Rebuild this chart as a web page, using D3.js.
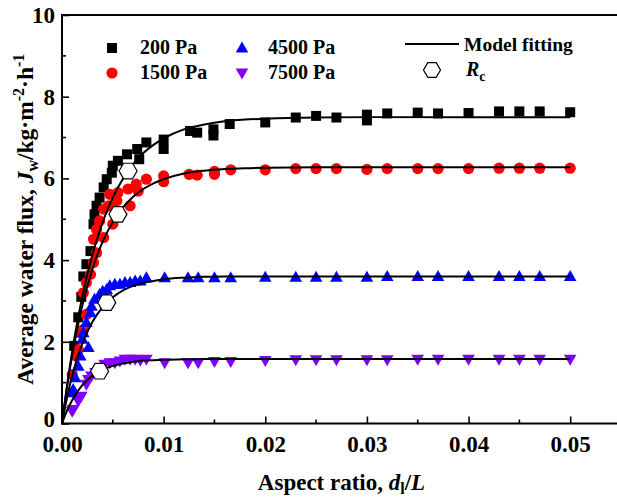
<!DOCTYPE html>
<html>
<head>
<meta charset="utf-8">
<script src="https://cdn.jsdelivr.net/npm/d3@7"></script>
<style>
  html, body { margin: 0; padding: 0; background: #fff; }
  svg { display: block; font-family: "Liberation Serif", "Times New Roman", serif; font-weight: bold; }
</style>
</head>
<body>
<svg id="chart" width="617" height="500"></svg>
<script>
// ---------------- data ----------------
const xTicks = [0, 0.01, 0.02, 0.03, 0.04, 0.05];
const xTickLabels = ["0.00", "0.01", "0.02", "0.03", "0.04", "0.05"];
const yTicks = [0, 2, 4, 6, 8, 10];
const yTickLabels = ["0", "2", "4", "6", "8", "10"];

const seriesNames = ["200 Pa", "1500 Pa", "4500 Pa", "7500 Pa"];

const pa200 = [
  [0.0012, 1.9], [0.0016, 2.6], [0.0019, 3.1], [0.0021, 3.6], [0.0024, 3.9], [0.0028, 4.22],
  [0.0031, 4.88], [0.0032, 5.12], [0.0034, 5.33], [0.0037, 5.53], [0.0041, 5.78], [0.0044, 5.98],
  [0.0049, 6.14], [0.0050, 6.31], [0.0055, 6.43], [0.0064, 6.59], [0.0076, 6.47], [0.0074, 6.72],
  [0.0083, 6.88], [0.0100, 6.72], [0.0100, 6.95], [0.0126, 7.16], [0.0133, 7.12], [0.0149, 7.05],
  [0.0149, 7.20], [0.0165, 7.33], [0.020, 7.37], [0.023, 7.49], [0.025, 7.53], [0.027, 7.49],
  [0.030, 7.42], [0.030, 7.56], [0.032, 7.59], [0.035, 7.61], [0.037, 7.59], [0.040, 7.60],
  [0.043, 7.64], [0.045, 7.64], [0.047, 7.64], [0.050, 7.62]
];
const pa1500 = [
  [0.0010, 1.2], [0.0014, 1.65], [0.0016, 1.81], [0.0018, 2.22], [0.0021, 2.3], [0.0024, 2.67],
  [0.0021, 3.2], [0.0024, 3.45], [0.0028, 3.65], [0.0031, 3.94], [0.0034, 4.18], [0.0031, 4.51],
  [0.0041, 4.55], [0.0034, 4.75], [0.0037, 4.96], [0.0050, 4.88], [0.0041, 5.25], [0.0046, 5.33],
  [0.0047, 5.61], [0.0054, 5.45], [0.0055, 5.65], [0.0067, 5.33], [0.0065, 5.74], [0.0073, 5.86],
  [0.0075, 5.69], [0.0083, 5.98], [0.0100, 5.92], [0.0100, 6.06], [0.0125, 6.10], [0.0133, 6.08],
  [0.015, 6.10], [0.015, 6.17], [0.0166, 6.21], [0.020, 6.21], [0.023, 6.24], [0.025, 6.24],
  [0.027, 6.24], [0.030, 6.22], [0.032, 6.24], [0.035, 6.24], [0.037, 6.24], [0.040, 6.24],
  [0.043, 6.25], [0.045, 6.25], [0.047, 6.25], [0.050, 6.25]
];
const pa4500 = [
  [0.0010, 0.75], [0.0011, 0.83], [0.0013, 1.12], [0.0016, 1.40], [0.0018, 1.65], [0.0020, 2.06],
  [0.0021, 2.22], [0.0024, 2.47], [0.0026, 1.86], [0.0028, 2.71], [0.0029, 2.87], [0.0032, 3.04],
  [0.0037, 3.16], [0.0040, 3.24], [0.0044, 3.28], [0.0047, 3.37], [0.0052, 3.41], [0.0057, 3.41],
  [0.0062, 3.45], [0.0067, 3.45], [0.0072, 3.49], [0.0077, 3.49], [0.0083, 3.57], [0.0101, 3.57],
  [0.0124, 3.57], [0.0134, 3.57], [0.015, 3.57], [0.0166, 3.57], [0.020, 3.58], [0.023, 3.58],
  [0.025, 3.58], [0.027, 3.58], [0.030, 3.58], [0.032, 3.60], [0.035, 3.60], [0.037, 3.60],
  [0.040, 3.60], [0.043, 3.60], [0.045, 3.60], [0.047, 3.60], [0.050, 3.60]
];
const pa7500 = [
  [0.0010, 0.30], [0.0011, 0.34], [0.0016, 0.55], [0.0019, 0.67], [0.0024, 0.96], [0.0026, 1.08],
  [0.0029, 1.16], [0.0033, 1.25], [0.0042, 1.45], [0.0047, 1.49], [0.0052, 1.49], [0.0057, 1.53],
  [0.0062, 1.57], [0.0067, 1.57], [0.0072, 1.57], [0.0077, 1.55], [0.0083, 1.57], [0.0101, 1.49],
  [0.0124, 1.49], [0.0134, 1.49], [0.015, 1.52], [0.0166, 1.52], [0.020, 1.54], [0.023, 1.56],
  [0.025, 1.56], [0.027, 1.56], [0.030, 1.56], [0.032, 1.56], [0.035, 1.57], [0.037, 1.57],
  [0.040, 1.57], [0.043, 1.57], [0.045, 1.57], [0.047, 1.57], [0.050, 1.57]
];

// model fitting curves
const fitX = [0, 0.0005, 0.001, 0.0015, 0.002, 0.003, 0.004, 0.005, 0.006, 0.007, 0.008, 0.009, 0.010, 0.012, 0.014, 0.016, 0.018, 0.020, 0.025, 0.030, 0.050];
const fit200  = [0, 0.94, 1.76, 2.48, 3.11, 4.14, 4.93, 5.53, 5.99, 6.35, 6.62, 6.82, 6.98, 7.20, 7.32, 7.40, 7.44, 7.46, 7.49, 7.50, 7.50];
const fit1500 = [0, 0.90, 1.66, 2.32, 2.89, 3.79, 4.45, 4.93, 5.29, 5.55, 5.74, 5.88, 5.98, 6.12, 6.19, 6.23, 6.25, 6.26, 6.27, 6.27, 6.27];
const fit4500 = [0, 0.64, 1.17, 1.60, 1.96, 2.49, 2.85, 3.09, 3.26, 3.37, 3.44, 3.49, 3.53, 3.57, 3.59, 3.60, 3.60, 3.60, 3.60, 3.60, 3.60];
const fit7500 = [0, 0.32, 0.57, 0.77, 0.94, 1.17, 1.32, 1.41, 1.47, 1.51, 1.54, 1.55, 1.56, 1.57, 1.58, 1.58, 1.58, 1.58, 1.58, 1.58, 1.58];

// critical ratio points R_c
const rcPoints = [[0.0065, 6.18], [0.0055, 5.12], [0.0044, 2.96], [0.0037, 1.28]];

// ---------------- drawing ----------------
const svg = d3.select("#chart");
const mLeft = 62, mRight = 621, mTop = 15, mBottom = 423.5;

const x = d3.scaleLinear().domain([0, 0.055]).range([mLeft, mRight]);
const y = d3.scaleLinear().domain([0, 10]).range([mBottom, mTop]);

const colors = ["#000000", "#ff0000", "#0000ff", "#8000ff"];
const seriesData = [pa200, pa1500, pa4500, pa7500];
const fits = [fit200, fit1500, fit4500, fit7500];

const symSquare = d3.symbol().type(d3.symbolSquare).size(100);
const triUp = "M0,-6.5L6.3,4.5L-6.3,4.5Z";
const triDown = "M0,6.5L6.3,-4.5L-6.3,-4.5Z";
function markerPath(i) {
  if (i === 0) return symSquare();
  if (i === 1) return d3.symbol().type(d3.symbolCircle).size(Math.PI * 5.6 * 5.6)();
  if (i === 2) return triUp;
  return triDown;
}
function hexPath(r) {
  const pts = d3.range(6).map(k => [r * Math.cos(k * Math.PI / 3), r * Math.sin(k * Math.PI / 3)]);
  return "M" + pts.map(p => p.join(",")).join("L") + "Z";
}

// points
seriesData.forEach((data, i) => {
  svg.append("g").selectAll("path").data(data).join("path")
    .attr("d", markerPath(i))
    .attr("transform", d => `translate(${x(d[0])},${y(d[1])})`)
    .attr("fill", colors[i]);
});

// fit lines
const line = d3.line().x(d => x(d[0])).y(d => y(d[1])).curve(d3.curveMonotoneX);
fits.forEach(f => {
  svg.append("path")
    .datum(fitX.map((xv, k) => [xv, f[k]]))
    .attr("d", line)
    .attr("fill", "none")
    .attr("stroke", "#000")
    .attr("stroke-width", 2);
});

// Rc hexagons
svg.append("g").selectAll("path").data(rcPoints).join("path")
  .attr("d", hexPath(9))
  .attr("transform", d => `translate(${x(d[0])},${y(d[1])})`)
  .attr("fill", "#fff")
  .attr("stroke", "#000")
  .attr("stroke-width", 1.2);

// axes
const xAxis = d3.axisBottom(x).tickValues(xTicks).tickSize(-7).tickPadding(12)
  .tickFormat((d, i) => xTickLabels[i]);
const gx = svg.append("g").attr("transform", `translate(0,${mBottom})`).call(xAxis);
const yAxis = d3.axisLeft(y).tickValues(yTicks).tickSize(-7).tickPadding(7)
  .tickFormat((d, i) => yTickLabels[i]);
const gy = svg.append("g").attr("transform", `translate(${mLeft},0)`).call(yAxis);
[gx, gy].forEach(g => {
  g.select(".domain").remove();
  g.selectAll(".tick line").attr("stroke-width", 1.6);
  g.selectAll("text").attr("font-family", "Liberation Serif, Times New Roman, serif")
    .attr("font-weight", "bold").attr("font-size", 23).attr("fill", "#000");
});
// the "0" label sits slightly above the corner in the reference
gy.selectAll(".tick text").filter(d => d === 0).attr("y", -4);

// frame
const frame = [[mLeft, mTop, mRight, mTop], [mRight, mTop, mRight, mBottom],
               [mLeft, mBottom, mRight, mBottom], [mLeft, mTop, mLeft, mBottom]];
svg.append("g").selectAll("line").data(frame).join("line")
  .attr("x1", d => d[0]).attr("y1", d => d[1]).attr("x2", d => d[2]).attr("y2", d => d[3])
  .attr("stroke", "#000").attr("stroke-width", 2).attr("stroke-linecap", "square");

// minor ticks
const xMinor = [0.005, 0.015, 0.025, 0.035, 0.045];
const yMinor = [1, 3, 5, 7, 9];
svg.append("g").selectAll("line").data(xMinor).join("line")
  .attr("x1", d => x(d)).attr("x2", d => x(d)).attr("y1", mBottom).attr("y2", mBottom - 4)
  .attr("stroke", "#000").attr("stroke-width", 1.6);
svg.append("g").selectAll("line").data(yMinor).join("line")
  .attr("x1", mLeft).attr("x2", mLeft + 4).attr("y1", d => y(d)).attr("y2", d => y(d))
  .attr("stroke", "#000").attr("stroke-width", 1.6);

// axis titles
const xt = svg.append("text").attr("x", (mLeft + mRight) / 2).attr("y", 490)
  .attr("text-anchor", "middle").attr("font-size", 23);
xt.append("tspan").text("Aspect ratio, ");
xt.append("tspan").attr("font-style", "italic").text("d");
xt.append("tspan").attr("font-size", 16).attr("dy", 4).text("l");
xt.append("tspan").attr("dy", -4).text("/");
xt.append("tspan").attr("font-style", "italic").text("L");

const yt = svg.append("text").attr("transform", `translate(33,${(mTop + mBottom) / 2}) rotate(-90)`)
  .attr("text-anchor", "middle").attr("font-size", 23.5);
yt.append("tspan").text("Average water flux, ");
yt.append("tspan").attr("font-style", "italic").text("J");
yt.append("tspan").attr("font-size", 16).attr("dy", 5).text("w");
yt.append("tspan").attr("dy", -5).text("/kg·m");
yt.append("tspan").attr("font-size", 16).attr("dy", -9).text("-2");
yt.append("tspan").attr("dy", 9).text("·h");
yt.append("tspan").attr("font-size", 16).attr("dy", -9).text("-1");

// legend
const legPos = [[112, 48, 140, 54], [112, 73, 140, 79], [242, 48, 268, 54], [242, 73, 268, 79]];
seriesNames.forEach((name, i) => {
  const p = legPos[i];
  svg.append("path").attr("d", markerPath(i))
    .attr("transform", `translate(${p[0]},${p[1]})`).attr("fill", colors[i]);
  svg.append("text").attr("x", p[2]).attr("y", p[3]).attr("font-size", 20).text(name);
});
svg.append("line").attr("x1", 405).attr("x2", 459).attr("y1", 44).attr("y2", 44)
  .attr("stroke", "#000").attr("stroke-width", 2);
svg.append("text").attr("x", 464).attr("y", 51).attr("font-size", 19.5).text("Model fitting");
svg.append("path").attr("d", hexPath(8.5)).attr("transform", "translate(432,70)")
  .attr("fill", "#fff").attr("stroke", "#000").attr("stroke-width", 1.2);
const rl = svg.append("text").attr("x", 466).attr("y", 76).attr("font-size", 20);
rl.append("tspan").attr("font-style", "italic").text("R");
rl.append("tspan").attr("font-size", 14).attr("dy", 5).text("c");
</script>
</body>
</html>
